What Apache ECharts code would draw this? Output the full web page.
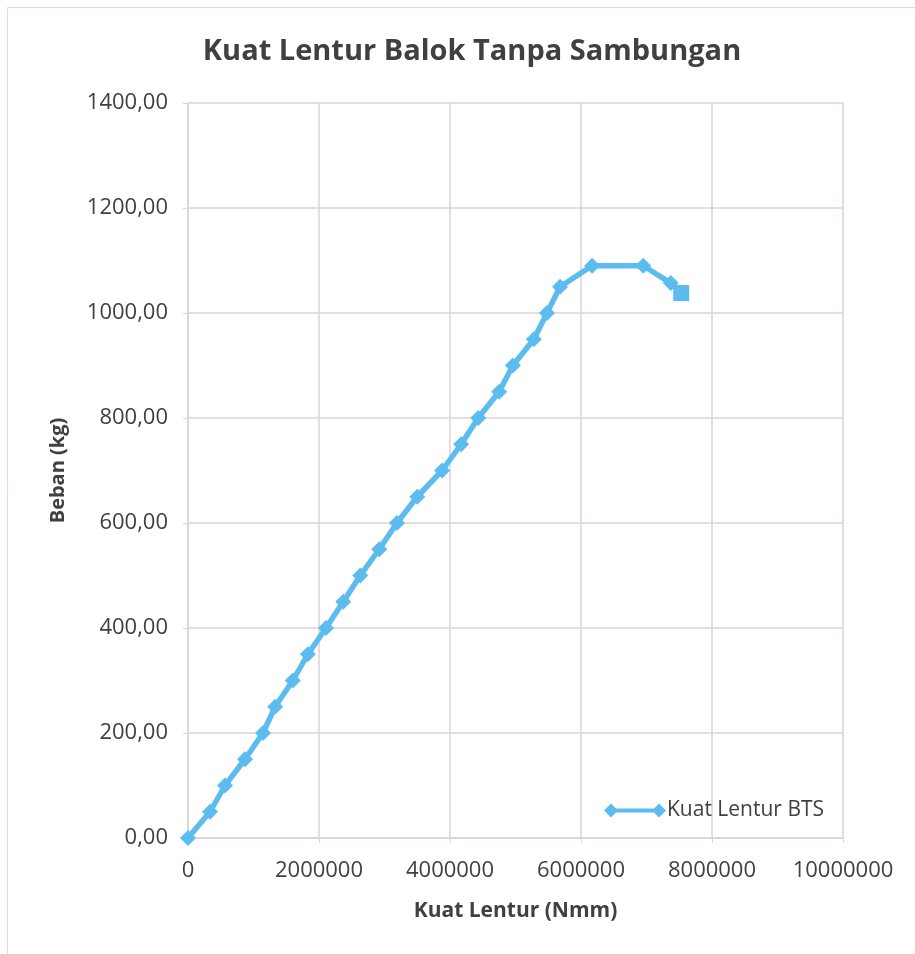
<!DOCTYPE html>
<html>
<head>
<meta charset="utf-8">
<title>Kuat Lentur Balok Tanpa Sambungan</title>
<script src="https://cdn.jsdelivr.net/npm/echarts@6/dist/echarts.min.js"></script>
<style>
  html, body { margin: 0; padding: 0; background: #ffffff; }
  #chart { width: 915px; height: 954px; }
</style>
</head>
<body>
<div id="chart"></div>
<script>
// Kuat lentur (Nmm) against beban (kg) for the beam without a joint
const seriesName = 'Kuat Lentur BTS';
const kuatLentur = [
  0, 336000, 565000, 870000, 1145000, 1330000, 1600000, 1830000, 2107000,
  2370000, 2630000, 2920000, 3190000, 3500000, 3880000, 4170000, 4430000,
  4750000, 4960000, 5280000, 5480000, 5680000, 6170000, 6950000, 7370000, 7530000
];
const beban = [
  0, 50, 100, 150, 200, 250, 300, 350, 400, 450, 500, 550, 600, 650, 700,
  750, 800, 850, 900, 950, 1000, 1050, 1090, 1090, 1057, 1038
];
const xTicks = [0, 2000000, 4000000, 6000000, 8000000, 10000000];
const yTicks = [0, 200, 400, 600, 800, 1000, 1200, 1400];

const textColor = '#404040';
const gridColor = '#dcd2da';
const lineColor = '#5cbcef';
const fontFamily = '"Open Sans", Lato, sans-serif';

const points = kuatLentur.map((x, i) => {
  const item = { value: [x, beban[i]] };
  if (i === kuatLentur.length - 1) item.symbol = 'rect';
  return item;
});

const chart = echarts.init(document.getElementById('chart'), null, { renderer: 'canvas' });

chart.setOption({
  backgroundColor: '#ffffff',
  animation: false,
  textStyle: { fontFamily: fontFamily },
  title: {
    text: 'Kuat Lentur Balok Tanpa Sambungan',
    left: 467,
    textAlign: 'center',
    top: 32,
    textStyle: { fontFamily: fontFamily, fontSize: 29, fontWeight: 'bold', color: textColor }
  },
  graphic: [{
    type: 'rect',
    shape: { x: 7.5, y: 7.5, width: 930, height: 960 },
    style: { fill: null, stroke: '#e3d8e0', lineWidth: 1 },
    silent: true
  }],
  legend: {
    data: [{
      name: seriesName,
      icon: 'path://M0,7 L7,0 L14,7 L7,14 Z M48,7 L55,0 L62,7 L55,14 Z M10,5 L52,5 L52,9 L10,9 Z'
    }],
    left: 599,
    top: 795,
    itemWidth: 62,
    itemHeight: 14,
    itemGap: 0,
    textStyle: { fontFamily: fontFamily, fontSize: 21, color: textColor, padding: [0, 0, 0, -4] }
  },
  grid: { left: 188, right: 72, top: 103, bottom: 116, containLabel: false },
  xAxis: {
    type: 'value',
    min: xTicks[0],
    max: xTicks[xTicks.length - 1],
    interval: xTicks[1] - xTicks[0],
    name: 'Kuat Lentur (Nmm)',
    nameLocation: 'middle',
    nameGap: 63,
    nameTextStyle: { fontFamily: fontFamily, fontSize: 21, fontWeight: 'bold', color: textColor },
    axisLine: { show: true, lineStyle: { color: gridColor, width: 1.5 } },
    axisTick: { show: true, inside: false, length: 5, lineStyle: { color: gridColor } },
    axisLabel: {
      fontFamily: fontFamily, fontSize: 22, color: textColor, margin: 22,
      formatter: v => String(v)
    },
    splitLine: { show: true, lineStyle: { color: gridColor, width: 1.5 } }
  },
  yAxis: {
    type: 'value',
    min: yTicks[0],
    max: yTicks[yTicks.length - 1],
    interval: yTicks[1] - yTicks[0],
    name: 'Beban (kg)',
    nameLocation: 'middle',
    nameGap: 120,
    nameRotate: 90,
    nameTextStyle: { fontFamily: fontFamily, fontSize: 20, fontWeight: 'bold', color: textColor },
    axisLine: { show: true, lineStyle: { color: gridColor, width: 1.5 } },
    axisTick: { show: true, inside: false, length: 5, lineStyle: { color: gridColor } },
    axisLabel: {
      fontFamily: fontFamily, fontSize: 22, color: textColor, margin: 20,
      formatter: v => v.toFixed(2).replace('.', ',')
    },
    splitLine: { show: true, lineStyle: { color: gridColor, width: 1.5 } }
  },
  series: [{
    name: seriesName,
    type: 'line',
    data: points,
    symbol: 'diamond',
    symbolSize: 16,
    showAllSymbol: true,
    lineStyle: { color: lineColor, width: 5.5 },
    itemStyle: { color: lineColor, borderColor: lineColor, borderWidth: 0 },
    emphasis: { disabled: true }
  }]
});
</script>
</body>
</html>
